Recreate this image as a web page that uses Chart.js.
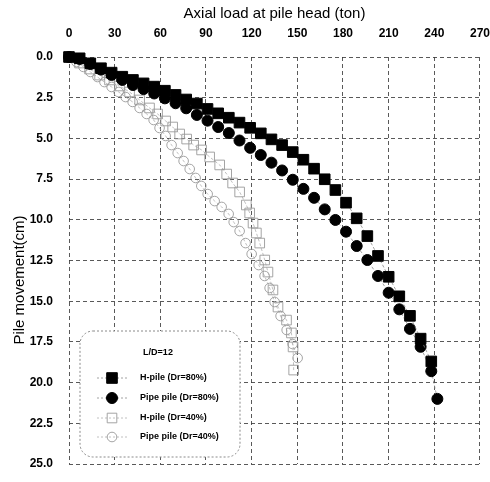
<!DOCTYPE html>
<html>
<head>
<meta charset="utf-8">
<script src="https://cdn.jsdelivr.net/npm/chart.js@4"></script>
<style>
  html, body { margin: 0; padding: 0; background: #fff; }
</style>
</head>
<body>
<canvas id="pile-chart" width="490" height="482"></canvas>
<script>
// Load-settlement data (L/D = 12)
const xTicks = [0, 30, 60, 90, 120, 150, 180, 210, 240, 270]
const yTicks = [0, 2.5, 5, 7.5, 10, 12.5, 15, 17.5, 20, 22.5, 25]

const loadH80 = [0, 7, 14, 21, 28, 35, 42, 49, 56, 63, 70, 77, 84, 91, 98, 105, 112, 119, 126, 133, 140, 147, 154, 161, 168, 175, 182, 189, 196, 203, 210, 217, 224, 231, 238]
const moveH80 = [0, 0.08, 0.39, 0.69, 0.96, 1.21, 1.41, 1.62, 1.82, 2.07, 2.33, 2.61, 2.86, 3.19, 3.46, 3.73, 4.03, 4.35, 4.69, 5.06, 5.41, 5.84, 6.31, 6.86, 7.51, 8.17, 8.95, 9.91, 11.0, 12.22, 13.5, 14.7, 15.9, 17.3, 18.7]

const loadP80 = [0, 7, 14, 21, 28, 35, 42, 49, 56, 63, 70, 77, 84, 91, 98, 105, 112, 119, 126, 133, 140, 147, 154, 161, 168, 175, 182, 189, 196, 203, 210, 217, 224, 231, 238, 242]
const moveP80 = [0, 0.12, 0.43, 0.77, 1.1, 1.41, 1.72, 1.97, 2.24, 2.54, 2.84, 3.15, 3.56, 3.91, 4.3, 4.67, 5.13, 5.58, 6.02, 6.49, 6.97, 7.54, 8.1, 8.65, 9.36, 10.01, 10.73, 11.61, 12.47, 13.45, 14.48, 15.5, 16.7, 17.8, 19.3, 21.0]

const loadH40 = [0, 6.9, 13.5, 20.1, 26.6, 33.2, 39.8, 46.4, 52.9, 58.2, 63.5, 68.1, 72.7, 77.3, 81.9, 87.1, 92.4, 99.0, 103.6, 107.5, 112.1, 116.5, 118.7, 120.9, 123.1, 125.3, 128.6, 130.7, 134.0, 137.3, 142.9, 146.1, 147.2, 147.6]
const moveH40 = [0, 0.37, 0.74, 1.11, 1.41, 1.78, 2.15, 2.64, 3.13, 3.5, 3.93, 4.3, 4.73, 5.04, 5.41, 5.71, 6.14, 6.63, 7.19, 7.74, 8.29, 9.09, 9.58, 10.2, 10.81, 11.43, 12.47, 13.21, 14.31, 15.36, 16.16, 16.95, 17.81, 19.23]

const loadP40 = [0, 4.9, 9.5, 14.1, 18.7, 23.3, 28.0, 32.6, 37.2, 41.8, 46.4, 51.0, 55.6, 59.5, 63.5, 67.4, 71.4, 75.3, 79.3, 83.2, 86.9, 91.1, 95.7, 100.3, 104.9, 108.2, 112.1, 116.0, 120.0, 124.6, 128.5, 131.8, 135.1, 139.0, 143.0, 146.9, 150.2]
const moveP40 = [0, 0.31, 0.61, 0.92, 1.23, 1.54, 1.84, 2.15, 2.46, 2.76, 3.13, 3.5, 3.87, 4.36, 4.85, 5.41, 5.9, 6.39, 6.88, 7.43, 7.92, 8.42, 8.85, 9.21, 9.64, 10.14, 10.69, 11.43, 12.1, 12.78, 13.45, 14.19, 15.05, 15.91, 16.77, 17.63, 18.49]

const legendTitle = "L/D=12"
const seriesNames = ["H-pile (Dr=80%)", "Pipe pile (Dr=80%)", "H-pile (Dr=40%)", "Pipe pile (Dr=40%)"]
const yTitle = "Pile movement(cm)"

const FONT = "'Liberation Sans', Arial, sans-serif"

function toPoints(xs, ys) {
  return xs.map((x, i) => ({ x: x, y: ys[i] }))
}

function makeSeries(label, xs, ys, style, filled) {
  const isRect = style === "rect"
  return {
    label: label,
    data: toPoints(xs, ys),
    showLine: true,
    clip: false,
    borderColor: filled ? "#8a8a8a" : "#b0b0b0",
    borderWidth: 0.8,
    borderDash: [3, 2],
    pointStyle: style,
    pointRadius: filled ? (isRect ? 7.5 : 5.5) : (isRect ? 6.8 : 4.8),
    pointBorderWidth: filled ? 1 : 0.9,
    pointBackgroundColor: filled ? "#000" : "rgba(255,255,255,0)",
    pointBorderColor: filled ? "#000" : "#9a9a9a",
  }
}

// Legend box drawn inside the plot, like the original figure
const legendBox = {
  id: "legendBox",
  afterDatasetsDraw(chart) {
    const ctx = chart.ctx
    const x0 = 80, y0 = 331, w = 160, h = 126
    ctx.save()
    ctx.beginPath()
    ctx.roundRect(x0, y0, w, h, 13)
    ctx.fillStyle = "#fff"
    ctx.fill()
    ctx.setLineDash([2, 2])
    ctx.strokeStyle = "#8a8a8a"
    ctx.lineWidth = 1
    ctx.stroke()

    ctx.setLineDash([])
    ctx.fillStyle = "#000"
    ctx.font = "bold 9px " + FONT
    ctx.textBaseline = "middle"
    ctx.textAlign = "center"
    ctx.fillText(legendTitle, 158, 353)

    const rows = [378, 398, 418, 437]
    chart.data.datasets.forEach((ds, i) => {
      const y = rows[i]
      ctx.save()
      ctx.setLineDash([2, 2])
      ctx.strokeStyle = ds.borderColor
      ctx.lineWidth = 0.8
      ctx.beginPath()
      ctx.moveTo(97, y)
      ctx.lineTo(128, y)
      ctx.stroke()
      ctx.restore()

      ctx.beginPath()
      const r = ds.pointRadius
      if (ds.pointStyle === "rect") {
        const s = r * Math.SQRT1_2
        ctx.rect(112 - s, y - s, s * 2, s * 2)
      } else {
        ctx.arc(112, y, r, 0, Math.PI * 2)
      }
      ctx.fillStyle = ds.pointBackgroundColor
      ctx.fill()
      ctx.strokeStyle = ds.pointBorderColor
      ctx.lineWidth = ds.pointBorderWidth
      ctx.stroke()

      ctx.fillStyle = "#000"
      ctx.textAlign = "left"
      ctx.fillText(ds.label, 140, y)
    })
    ctx.restore()
  },
}

// Y title sits a bit below the middle of the axis in the original
const yTitlePlugin = {
  id: "yTitle",
  afterDraw(chart) {
    const ctx = chart.ctx
    ctx.save()
    ctx.translate(20, 280)
    ctx.rotate(-Math.PI / 2)
    ctx.fillStyle = "#000"
    ctx.font = "15px " + FONT
    ctx.textAlign = "center"
    ctx.textBaseline = "middle"
    ctx.fillText(yTitle, 0, 0)
    ctx.restore()
  },
}

const gridStyle = {
  color: "rgba(60,60,60,0.85)",
  lineWidth: 1,
  drawTicks: true,
  tickLength: 16,
  tickColor: "rgba(0,0,0,0)",
}

const ctx = document.getElementById("pile-chart").getContext("2d")

new Chart(ctx, {
  type: "scatter",
  data: {
    datasets: [
      makeSeries(seriesNames[0], loadH80, moveH80, "rect", true),
      makeSeries(seriesNames[1], loadP80, moveP80, "circle", true),
      makeSeries(seriesNames[2], loadH40, moveH40, "rect", false),
      makeSeries(seriesNames[3], loadP40, moveP40, "circle", false),
    ],
  },
  options: {
    responsive: false,
    animation: false,
    layout: { padding: { top: 0, right: 10, bottom: 18, left: 0 } },
    plugins: {
      legend: { display: false },
      tooltip: { enabled: false },
    },
    scales: {
      x: {
        type: "linear",
        position: "top",
        min: xTicks[0],
        max: xTicks[xTicks.length - 1],
        afterBuildTicks: (scale) => { scale.ticks = xTicks.map((v) => ({ value: v })) },
        afterFit: (scale) => { scale.height = 57 },
        grid: gridStyle,
        border: { display: false, dash: [4, 3] },
        ticks: {
          color: "#000",
          font: { family: FONT, size: 12, weight: "bold" },
          padding: 0,
          maxRotation: 0,
        },
        title: {
          display: true,
          text: "Axial load at pile head (ton)",
          color: "#000",
          font: { family: FONT, size: 15 },
          padding: { top: 5, bottom: 0 },
        },
      },
      y: {
        type: "linear",
        reverse: true,
        min: yTicks[0],
        max: yTicks[yTicks.length - 1],
        afterBuildTicks: (scale) => { scale.ticks = yTicks.map((v) => ({ value: v })) },
        afterFit: (scale) => { scale.width = 69 },
        grid: gridStyle,
        border: { display: false, dash: [4, 3] },
        ticks: {
          color: "#000",
          font: { family: FONT, size: 12, weight: "bold" },
          padding: 0,
          callback: (v) => Number(v).toFixed(1),
        },
        title: { display: false },
      },
    },
  },
  plugins: [legendBox, yTitlePlugin],
})
</script>
</body>
</html>
